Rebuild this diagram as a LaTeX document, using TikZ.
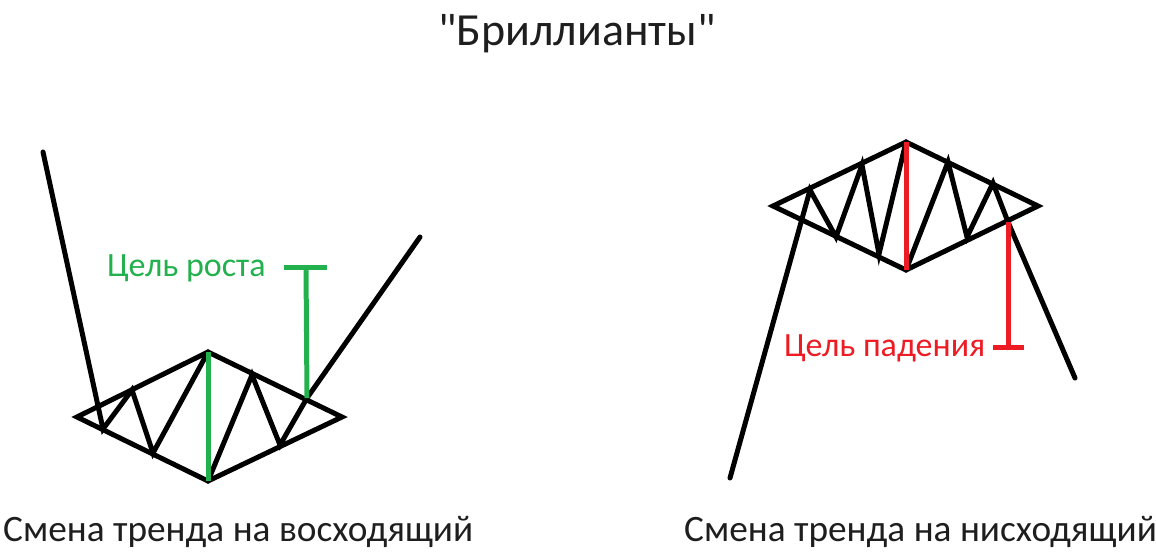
\documentclass[tikz,border=0pt]{standalone}
\usepackage{fontspec}
\setmainfont{Carlito}
\newfontfamily\titlefont{Carlito}
\definecolor{pgreen}{RGB}{34,177,76}
\definecolor{pred}{RGB}{237,28,36}
\definecolor{ink}{RGB}{30,30,30}
\begin{document}
\begin{tikzpicture}[x=1pt,y=-1pt,
  blk/.style={draw=black,line width=5pt,line join=miter,line cap=round},
  grn/.style={draw=pgreen,line width=5pt},
  rd/.style={draw=pred,line width=5pt},
  lbl/.style={inner sep=0pt,anchor=west}]
\useasboundingbox (0,0) rectangle (1156,557);
% title
\node[inner sep=0pt,text=ink,font=\titlefont\fontsize{46}{50}\selectfont] (title) at (577,34) {"Бриллианты"};
% ---- left diamond ----
\coordinate (LL) at (77,417);
\coordinate (LT) at (208,352);
\coordinate (LR) at (342,417);
\coordinate (LB) at (208,481);
\draw[blk] (LL) -- (LT) -- (LR) -- (LB) -- cycle;
\coordinate (L0) at (43,152);
\coordinate (L1) at (103,429);
\coordinate (L2) at (132,390);
\coordinate (L3) at (153,453);
\coordinate (L4) at (252,375);
\coordinate (L5) at (280,445);
\coordinate (L6) at (307,398);
\coordinate (L7) at (420,237);
\draw[blk] (L0) -- (L1) -- (L2) -- (L3) -- (LT);
\draw[blk] (LB) -- (L4) -- (L5) -- (L6) -- (L7);
\draw[grn] (LT) -- (LB);
\coordinate (GT) at (306,267);
\coordinate (GA) at (284,267);
\coordinate (GB) at (327,267);
\draw[grn] (L6) -- (GT);
\draw[grn] (GA) -- (GB);
\node[lbl,text=pgreen,font=\fontsize{34}{38}\selectfont] (glbl) at (107,268) {Цель роста};
\node[lbl,text=ink,font=\fontsize{37.3}{42}\selectfont] (lcap) at (3,532) {Смена тренда на восходящий};
% ---- right diamond ----
\coordinate (RL) at (773,206);
\coordinate (RT) at (906,142);
\coordinate (RR) at (1038,206);
\coordinate (RB) at (906,270);
\draw[blk] (RL) -- (RT) -- (RR) -- (RB) -- cycle;
\coordinate (R0) at (730,478);
\coordinate (R1) at (810,190);
\coordinate (R2) at (836,237);
\coordinate (R3) at (862,165);
\coordinate (R4) at (879,254);
\coordinate (R5) at (948,162);
\coordinate (R6) at (967,237);
\coordinate (R7) at (993,183);
\coordinate (R8) at (1008,222);
\coordinate (R9) at (1075,378);
\draw[blk] (R0) -- (R1) -- (R2) -- (R3) -- (R4) -- (RT);
\draw[blk] (RB) -- (R5) -- (R6) -- (R7) -- (R8) -- (R9);
\draw[rd] (RT) -- (RB);
\coordinate (RD) at (1008,347);
\coordinate (RA) at (993,347);
\coordinate (RC) at (1024,347);
\draw[rd] (R8) -- (RD);
\draw[rd] (RA) -- (RC);
\node[lbl,text=pred,font=\fontsize{34}{38}\selectfont] (rlbl) at (784,348) {Цель падения};
\node[lbl,text=ink,font=\fontsize{37.3}{42}\selectfont] (rcap) at (684,532) {Смена тренда на нисходящий};
\end{tikzpicture}
\end{document}
